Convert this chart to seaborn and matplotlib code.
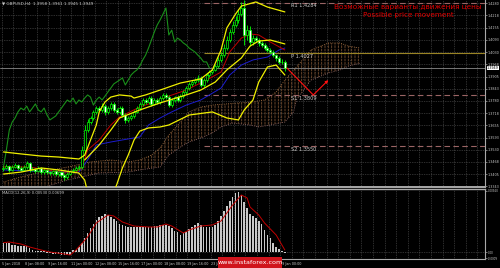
import numpy as np
import matplotlib
matplotlib.use("Agg")
import matplotlib.pyplot as plt
from matplotlib.patches import Rectangle
import seaborn as sns

# ---------------- data ----------------
title_text = "\u25bc GBPUSD,H4  1.3958 1.3961 1.3945 1.3949"
closes = [1.3437, 1.3447, 1.3427, 1.3442, 1.3452, 1.3437, 1.3427, 1.3442, 1.3462, 1.3427,
          1.3432, 1.3421, 1.3437, 1.3416, 1.3427, 1.3416, 1.3411, 1.3421, 1.3406, 1.3416,
          1.3401, 1.3391, 1.3406, 1.3421, 1.3427, 1.3437, 1.3442, 1.3529, 1.3631, 1.3672,
          1.3693, 1.3724, 1.3744, 1.3734, 1.3754, 1.3724, 1.3744, 1.3765, 1.3734, 1.3724,
          1.3744, 1.3708, 1.3683, 1.3693, 1.3703, 1.3724, 1.3744, 1.3765, 1.3785, 1.3775,
          1.3795, 1.3765, 1.3785, 1.3775, 1.3795, 1.3811, 1.3800, 1.3759, 1.3785, 1.3800,
          1.3785, 1.3805, 1.3826, 1.3846, 1.3867, 1.3877, 1.3887, 1.3898, 1.3862, 1.3887,
          1.3913, 1.3928, 1.3939, 1.3959, 1.3990, 1.4015, 1.4051, 1.4092, 1.4133, 1.4169,
          1.4195, 1.4225, 1.4256, 1.4118, 1.4143, 1.4082, 1.4102, 1.4092, 1.4077, 1.4067,
          1.4051, 1.4041, 1.4031, 1.4015, 1.4000, 1.3980, 1.3980, 1.3949]
first_open = 1.3432
upper_wick_pips = [8, 10, 6, 8, 10, 6, 8, 10, 12, 6, 8, 6, 10, 6, 8, 6, 8, 6, 8, 6,
                   8, 6, 10, 8, 8, 10, 8, 20, 25, 15, 12, 10, 12, 10, 15, 10, 12, 10, 8, 10,
                   10, 8, 12, 10, 8, 10, 12, 10, 10, 12, 8, 10, 12, 8, 10, 12, 8, 10, 12, 8,
                   10, 10, 12, 10, 8, 10, 12, 15, 10, 10, 10, 12, 10, 12, 15, 15, 20, 20, 15, 20,
                   20, 25, 30, 40, 25, 20, 15, 12, 10, 12, 10, 10, 12, 10, 8, 10, 15, 8]
lower_wick_pips = [8, 6, 10, 8, 6, 10, 8, 6, 8, 10, 8, 10, 6, 10, 8, 10, 8, 10, 8, 10,
                   12, 15, 8, 6, 8, 6, 8, 10, 15, 12, 10, 12, 10, 12, 10, 15, 10, 12, 12, 10,
                   10, 12, 15, 10, 8, 10, 8, 10, 12, 10, 12, 10, 8, 12, 10, 8, 12, 10, 8, 12,
                   10, 8, 10, 10, 12, 10, 8, 10, 12, 10, 10, 8, 10, 8, 10, 10, 12, 10, 12, 10,
                   12, 15, 10, 50, 25, 20, 15, 12, 15, 12, 10, 12, 10, 12, 15, 12, 10, 15]

bb_upper_idx = [0, 6, 13, 19, 26, 28, 30, 32, 33, 35, 37, 40, 44, 45, 49, 54, 61, 68, 72, 75, 77, 80, 82, 87, 91, 97]
bb_upper = [1.3519, 1.3509, 1.3498, 1.3493, 1.3483, 1.3503, 1.3580, 1.3657, 1.3724, 1.3775, 1.3800, 1.3811, 1.3805,
            1.3795, 1.3811, 1.3836, 1.3872, 1.3893, 1.3939, 1.4041, 1.4154, 1.4225, 1.4266, 1.4287, 1.4261, 1.4236]
bb_mid_idx = [28, 33, 37, 40, 47, 54, 63, 68, 73, 77, 82, 85, 88, 92, 97]
bb_mid = [1.3478, 1.3555, 1.3631, 1.3693, 1.3734, 1.3770, 1.3811, 1.3836, 1.3877, 1.3939, 1.4000, 1.4061, 1.4087,
          1.4092, 1.4072]
bb_lower_idx = [0, 6, 13, 19, 26, 28, 29, 33, 37, 39, 41, 43, 45, 47, 50, 54, 57, 64, 72, 77, 81, 83, 86, 88, 91, 94, 97]
bb_lower = [1.3406, 1.3416, 1.3437, 1.3427, 1.3411, 1.3375, 1.3314, 1.3247, 1.3283, 1.3350, 1.3437, 1.3503, 1.3580,
            1.3626, 1.3642, 1.3647, 1.3657, 1.3708, 1.3724, 1.3693, 1.3683, 1.3734, 1.3785, 1.3877, 1.3954, 1.3964,
            1.3913]

tenkan_idx = [0, 9, 19, 25, 27, 29, 33, 37, 40, 47, 52, 56, 63, 70, 75, 78, 82, 85, 88, 92, 97]
tenkan = [1.3442, 1.3442, 1.3416, 1.3416, 1.3437, 1.3529, 1.3580, 1.3657, 1.3698, 1.3749, 1.3775, 1.3800, 1.3836,
          1.3887, 1.3928, 1.4031, 1.4102, 1.4123, 1.4118, 1.4082, 1.4041]
kijun_idx = [0, 19, 26, 29, 32, 37, 47, 50, 54, 58, 63, 68, 71, 75, 78, 82, 86, 91, 95, 97]
kijun = [1.3427, 1.3416, 1.3416, 1.3478, 1.3555, 1.3570, 1.3596, 1.3657, 1.3693, 1.3724, 1.3759, 1.3785, 1.3811,
         1.3846, 1.3913, 1.3964, 1.3990, 1.4005, 1.4041, 1.4051]
senkou_a_idx = [0, 6, 13, 22, 30, 37, 43, 47, 51, 54, 57, 61, 64, 68, 72, 81, 86, 90, 94, 97, 101, 106, 112, 116,
                119, 123]
senkou_a = [1.3365, 1.3391, 1.3416, 1.3442, 1.3468, 1.3478, 1.3468, 1.3478, 1.3503, 1.3539, 1.3606, 1.3672, 1.3724,
            1.3749, 1.3759, 1.3770, 1.3775, 1.3785, 1.3826, 1.3887, 1.3954, 1.4041, 1.4077, 1.4077, 1.4061, 1.4051]
senkou_b_idx = [0, 13, 22, 33, 43, 47, 54, 57, 61, 64, 69, 72, 75, 79, 85, 88, 92, 97, 100, 101, 106, 112, 116, 119,
                123]
senkou_b = [1.3324, 1.3334, 1.3375, 1.3411, 1.3416, 1.3427, 1.3442, 1.3503, 1.3544, 1.3570, 1.3596, 1.3616, 1.3647,
            1.3667, 1.3657, 1.3647, 1.3657, 1.3672, 1.3724, 1.3785, 1.3887, 1.3923, 1.3939, 1.3959, 1.3974]
chikou_shift = 26

pivot_names = ["R1", "P", "S1", "S2"]
pivot_values = [1.4284, 1.4027, 1.3809, 1.3550]
pivot_start_idx = 69
current_price = 1.3949
arrow_idx = [97.7, 106.8, 112.0]
arrow_price = [1.3949, 1.3811, 1.3887]

price_ticks = [1.4280, 1.4218, 1.4155, 1.4093, 1.4030, 1.3968, 1.3905, 1.3843, 1.3780, 1.3718, 1.3655, 1.3593,
               1.3530, 1.3468, 1.3405, 1.3343]

macd_hist = [0.00135, 0.00135, 0.00135, 0.00105, 0.00105, 0.0009, 0.0009, 0.0009, 0.0009, 0.0006,
             0.0003, 0.00015, 0.00015, 0.00015, 0.00008, -0.00015, -0.00015, -0.0003, -0.0003, -0.0003,
             -0.00045, -0.00045, -0.00045, -0.00045, 0.0003, 0.0003, 0.00075, 0.00135, 0.0021, 0.00285,
             0.0036, 0.0042, 0.0048, 0.00525, 0.0054, 0.0057, 0.00555, 0.00525, 0.00495, 0.00465,
             0.0042, 0.00405, 0.0039, 0.00375, 0.00375, 0.00375, 0.00375, 0.00375, 0.00375, 0.00375,
             0.00375, 0.00375, 0.0039, 0.0039, 0.00405, 0.00405, 0.00405, 0.0039, 0.0036, 0.00315,
             0.003, 0.00255, 0.00285, 0.003, 0.00345, 0.00375, 0.00405, 0.00435, 0.00405, 0.00375,
             0.00375, 0.00375, 0.00375, 0.00405, 0.00465, 0.0054, 0.00615, 0.0069, 0.00765, 0.00825,
             0.00885, 0.009, 0.00855, 0.0075, 0.0066, 0.0057, 0.0054, 0.0051, 0.00465, 0.0042,
             0.0033, 0.00255, 0.0021, 0.00135, 0.00075, 0.00045, 0.00008, -0.00015]
signal_idx = [0, 2, 6, 9, 13, 16, 21, 23, 25, 29, 32, 36, 38, 41, 45, 50, 53, 56, 58, 62, 64, 68, 72, 75, 77, 79,
              82, 84, 85, 88, 90, 94, 97]
signal = [0.0014, 0.0015, 0.0012, 0.00075, 0.0003, 0.0, -0.0003, -0.00045, 0.0003, 0.00225, 0.00435, 0.00555,
          0.0054, 0.0045, 0.0039, 0.00375, 0.00375, 0.0042, 0.0039, 0.00285, 0.0033, 0.0039, 0.00405, 0.00465,
          0.00585, 0.00705, 0.00855, 0.0081, 0.00675, 0.00555, 0.00435, 0.00255, 0.0003]
macd_label = "MACD(12,26,9) 0.00530 0.00699"
macd_ticks = [0.0092, 0.0, -0.0009]
macd_tick_labels = ["0.00920", "0.00", "-0.0009"]

date_labels = ["5 Jan 2018", "8 Jan 08:00", "9 Jan 16:00", "11 Jan 00:00", "12 Jan 08:00", "15 Jan 16:00",
               "17 Jan 00:00", "18 Jan 08:00", "19 Jan 16:00", "23 Jan 00:00", "24 Jan 08:00", "25 Jan 16:00",
               "29 Jan 00:00"]
note_ru = "Возможные варианты движения цены"
note_en = "Possible price movement"
watermark = "www.instaforex.com"

# ---------------- style ----------------
sns.set_theme(style="dark")
plt.rcParams['font.family'] = ['DejaVu Sans']
plt.rcParams['hatch.linewidth'] = 0.6

W, H = 500, 268
fig = plt.figure(figsize=(5, 2.68), dpi=100, facecolor='black')


def fax(x0, y0, x1, y1):
    return [x0 / W, 1 - y1 / H, (x1 - x0) / W, (y1 - y0) / H]


ax = fig.add_axes(fax(0, 0, 485, 187))
ax2 = fig.add_axes(fax(0, 189, 485, 259))
XL = (-1.2, 166.0)
AX_GRAY = '#a8a8a8'
TXT = '#c8c8c8'
for a in (ax, ax2):
    a.set_facecolor('black')
    a.set_xlim(*XL)
    for s in a.spines.values():
        s.set_visible(False)
    a.spines['right'].set_visible(True)
    a.spines['right'].set_color(AX_GRAY)
    a.spines['right'].set_linewidth(0.8)
ax.spines['bottom'].set_visible(True)
ax.spines['bottom'].set_color(AX_GRAY)
ax.spines['bottom'].set_linewidth(1.4)
ax2.spines['top'].set_visible(True)
ax2.spines['top'].set_color(AX_GRAY)
ax2.spines['top'].set_linewidth(1.0)
ax2.spines['bottom'].set_visible(True)
ax2.spines['bottom'].set_color(AX_GRAY)
ax2.spines['bottom'].set_linewidth(0.8)

ax.set_ylim(1.33396, 1.4297)
ax2.set_ylim(-0.00105, 0.00945)

grid_x = np.arange(-0.6, XL[1], 4)
label_x = np.arange(len(date_labels)) * 8 - 0.6
grid_style = dict(color='#5c5c5c', linestyle=(0, (1, 1.5)), linewidth=0.5)

# main axis ticks / grid
ax.set_xticks(grid_x)
ax.tick_params(axis='x', length=0, labelbottom=False)
ax.yaxis.tick_right()
ax.set_yticks(price_ticks)
ax.set_yticklabels([f"{v:.4f}" for v in price_ticks])
ax.tick_params(axis='y', length=1.5, width=0.5, color=AX_GRAY, labelsize=2.4, labelcolor=TXT, pad=0.5)
ax.grid(True, **grid_style)
ax.set_axisbelow(True)

# macd axis ticks / grid
ax2.set_xticks(label_x)
ax2.set_xticks(grid_x, minor=True)
ax2.set_xticklabels(date_labels, ha='left')
ax2.tick_params(axis='x', which='major', length=2, width=0.5, color=AX_GRAY, labelsize=2.4,
                labelcolor=TXT, pad=0.5)
ax2.tick_params(axis='x', which='minor', length=0)
ax2.yaxis.tick_right()
ax2.set_yticks(macd_ticks)
ax2.set_yticklabels(macd_tick_labels)
ax2.tick_params(axis='y', length=1.5, width=0.5, color=AX_GRAY, labelsize=2.0, labelcolor=TXT, pad=0.4)
ax2.grid(True, which='both', axis='x', **grid_style)
ax2.axhline(0, **grid_style)
ax2.set_axisbelow(True)

# ---------------- ichimoku cloud ----------------
cx = list(senkou_a_idx) + list(senkou_b_idx)[::-1]
cy = list(senkou_a) + list(senkou_b)[::-1]
ax.fill(cx, cy, facecolor='none', edgecolor='#7a5030', hatch='|||||', linewidth=0, zorder=1)
ax.fill(cx, cy, facecolor='none', edgecolor='black', hatch='-----', linewidth=0, zorder=1.1)
sns.lineplot(x=senkou_a_idx, y=senkou_a, ax=ax, color='#b07a4a', linewidth=0.6, linestyle=':', zorder=1.2)
sns.lineplot(x=senkou_b_idx, y=senkou_b, ax=ax, color='#9a7070', linewidth=0.6, linestyle=':', zorder=1.2)

# ---------------- horizontal levels ----------------
ax.axhline(current_price, color='#8a8a8a', linewidth=0.6, zorder=1.5)
for name, val in zip(pivot_names, pivot_values):
    if name == 'P':
        ax.hlines(val, pivot_start_idx, XL[1], color='#9a8424', linewidth=0.8, zorder=1.5)
    else:
        ax.hlines(val, pivot_start_idx, XL[1], color='#9a6464', linewidth=0.8,
                  linestyles=(0, (5, 3)), zorder=1.5)
    ax.text(99, val - 0.0004, f"{name} {val:.4f}", color=TXT, fontsize=3.6, va='top', ha='left', zorder=6)

# ---------------- indicator lines ----------------
chikou_x = np.arange(chikou_shift, len(closes)) - chikou_shift
sns.lineplot(x=chikou_x, y=closes[chikou_shift:], ax=ax, color='#1a8f1a', linewidth=0.8, zorder=2)
sns.lineplot(x=kijun_idx, y=kijun, ax=ax, color='#1c1cd0', linewidth=0.7, zorder=2.2)
sns.lineplot(x=tenkan_idx, y=tenkan, ax=ax, color='#c00000', linewidth=0.7, zorder=2.3)

# ---------------- candles ----------------
c = np.array(closes)
o = np.array([first_open] + closes[:-1])
hi = np.maximum(o, c) + np.array(upper_wick_pips) / 1e4
lo = np.minimum(o, c) - np.array(lower_wick_pips) / 1e4
idx = np.arange(len(c))
bull = c >= o
ax.vlines(idx, lo, hi, color='#00ff00', linewidth=0.6, zorder=3)
ax.bar(idx[bull], (c - o)[bull], bottom=o[bull], width=0.7, color='black', edgecolor='#00ff00',
       linewidth=0.5, zorder=3.1)
ax.bar(idx[~bull], (o - c)[~bull], bottom=c[~bull], width=0.7, color='white', edgecolor='#00ff00',
       linewidth=0.5, zorder=3.1)

# bollinger bands (on top)
for xs, ys in ((bb_upper_idx, bb_upper), (bb_mid_idx, bb_mid), (bb_lower_idx, bb_lower)):
    sns.lineplot(x=xs, y=ys, ax=ax, color='#f0f000', linewidth=0.9, zorder=4)

# red forecast arrow
ax.plot(arrow_idx[:2], arrow_price[:2], color='#ff1010', linewidth=0.8, zorder=5)
ax.annotate('', xy=(arrow_idx[2], arrow_price[2]), xytext=(arrow_idx[1], arrow_price[1]),
            arrowprops=dict(arrowstyle='-|>', color='#ff1010', lw=0.8, mutation_scale=4,
                            shrinkA=0, shrinkB=0), zorder=5)

# current price box on the axis
ax.text(1.004, current_price, f"{current_price:.4f}", transform=ax.get_yaxis_transform(), fontsize=2.4,
        color='black', va='center', ha='left', clip_on=False,
        bbox=dict(facecolor='white', edgecolor='none', pad=0.3), zorder=8)

# texts
ax.text(0.004, 0.993, title_text, transform=ax.transAxes, fontsize=3.0, color=TXT, va='top', ha='left')
ax.text(408 / 485, 1 - 7.5 / 187, note_ru, transform=ax.transAxes, color='#e00000', fontsize=5.2,
        ha='center', va='center', zorder=6)
ax.text(408 / 485, 1 - 15.5 / 187, note_en, transform=ax.transAxes, color='#e00000', fontsize=5.2,
        ha='center', va='center', zorder=6)

# ---------------- MACD ----------------
ax2.bar(idx, macd_hist, width=0.55, color='#c8c8c8', linewidth=0, zorder=2)
sns.lineplot(x=signal_idx, y=signal, ax=ax2, color='#c00000', linewidth=0.7, zorder=3)
ax2.text(0.004, 0.97, macd_label, transform=ax2.transAxes, fontsize=2.7, color=TXT, va='top', ha='left')
ax.set_xlabel('')
ax.set_ylabel('')
ax2.set_xlabel('')
ax2.set_ylabel('')

# watermark
fig.patches.append(Rectangle((218 / W, 0), 64 / W, 11 / H, transform=fig.transFigure,
                             facecolor='#d0141c', edgecolor='none', zorder=10))
fig.text(250 / W, 5.3 / H, watermark, color='white', fontsize=4.6, ha='center', va='center', zorder=11)

fig.savefig('out.png', dpi=100, facecolor='black')
